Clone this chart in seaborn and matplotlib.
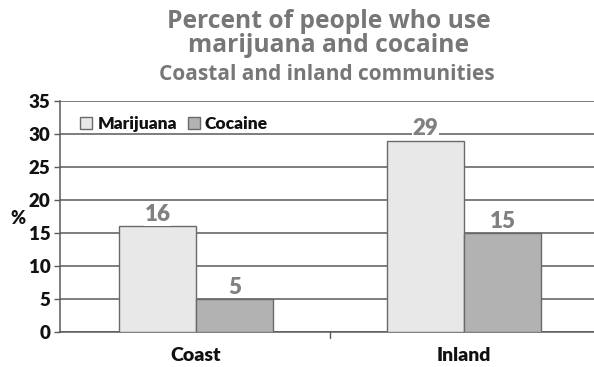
import matplotlib
matplotlib.use("Agg")
import matplotlib.pyplot as plt
import seaborn as sns
import pandas as pd

categories = ["Coast", "Inland"]
series = ["Marijuana", "Cocaine"]
marijuana = [16, 29]
cocaine = [5, 15]
yticks = [0, 5, 10, 15, 20, 25, 30, 35]

df = pd.DataFrame({
    "Community": categories * 2,
    "Drug": [series[0]] * 2 + [series[1]] * 2,
    "Percent": marijuana + cocaine,
})

sns.set_theme(style="white")
plt.rcParams["font.family"] = ["Lato", "DejaVu Sans"]
plt.rcParams["font.weight"] = "heavy"
W = "heavy"

fig = plt.figure(figsize=(5.94, 3.67), dpi=100)
ax = fig.add_axes([60 / 594, 1 - 332 / 367, 1 - 60 / 594, (332 - 101) / 367])

palette = {"Marijuana": "#e8e8e8", "Cocaine": "#b2b2b2"}
sns.barplot(data=df, x="Community", y="Percent", hue="Drug", order=categories,
            hue_order=series, palette=palette, width=0.575, edgecolor="#6a6a6a",
            linewidth=1.0, ax=ax, zorder=3, saturation=1)

ax.set_ylim(0, 35)
ax.set_xlim(-0.507, 1.485)
ax.set_yticks(yticks)
ax.set_yticklabels([str(v) for v in yticks], fontsize=13.5, fontweight=W, color="#111111")
ax.yaxis.grid(True, color="#5a5a5a", linewidth=1.1, zorder=0)
ax.xaxis.grid(False)
ax.set_axisbelow(True)

for s in ["top", "right"]:
    ax.spines[s].set_visible(False)
for s in ["left", "bottom"]:
    ax.spines[s].set_color("#5a5a5a")
    ax.spines[s].set_linewidth(1.1)

ax.tick_params(axis="y", left=True, length=4, width=1, color="#5a5a5a", pad=3)
ax.set_xticks([0, 1])
ax.set_xticklabels(categories, fontsize=14, fontweight=W, color="#111111")
ax.tick_params(axis="x", bottom=False, pad=5)
ax.plot([0.5, 0.5], [0, -0.9], color="#5a5a5a", linewidth=1, clip_on=False)

ax.set_xlabel("")
ax.set_ylabel("%", fontsize=13, fontweight=W, rotation=0, color="#111111",
              va="center", ha="center")
ax.yaxis.set_label_coords(-0.078, 0.49)

for container in ax.containers:
    ax.bar_label(container, fmt="%d", padding=1, fontsize=16, fontweight=W,
                 color="#808080",
                 bbox=dict(facecolor="white", edgecolor="none", pad=0.5))

leg = ax.legend(loc="upper left", bbox_to_anchor=(0.025, 0.965), frameon=False,
                ncol=2, fontsize=12.5, handlelength=0.7, handleheight=0.7,
                handletextpad=0.3, columnspacing=0.6, borderaxespad=0)
for t in leg.get_texts():
    t.set_fontweight(W)
    t.set_color("#111111")

tc = "#777777"
tf = ["Open Sans", "Lato", "DejaVu Sans"]
fig.text(0.553, 1 - 28 / 367, "Percent of people who use", ha="center", va="baseline",
         fontsize=17.7, fontweight="bold", color=tc, family=tf)
fig.text(0.553, 1 - 52 / 367, "marijuana and cocaine", ha="center", va="baseline",
         fontsize=17.7, fontweight="bold", color=tc, family=tf)
fig.text(0.551, 1 - 80 / 367, "Coastal and inland communities", ha="center", va="baseline",
         fontsize=15, fontweight="bold", color=tc, family=tf)

fig.savefig("out.png", dpi=100, facecolor="white")
